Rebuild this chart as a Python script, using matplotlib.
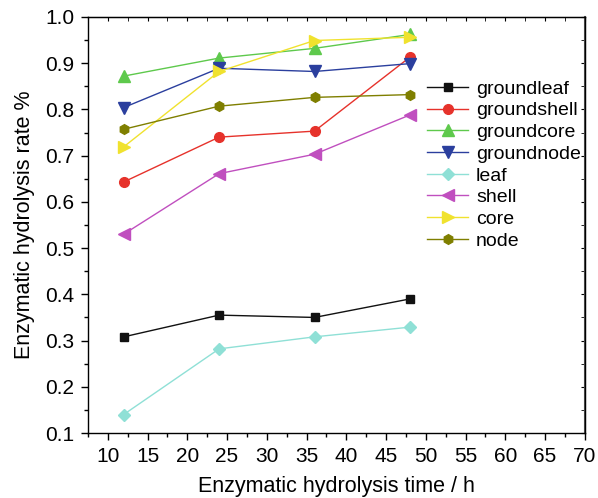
import matplotlib.pyplot as plt
from matplotlib.ticker import MultipleLocator

plt.rcParams['font.family'] = ['Liberation Sans', 'DejaVu Sans']

# hydrolysis time (h)
times = [12, 24, 36, 48]

# enzymatic hydrolysis rate for each sample
groundleaf = [0.308, 0.355, 0.350, 0.390]
groundshell = [0.643, 0.740, 0.753, 0.913]
groundcore = [0.872, 0.911, 0.932, 0.962]
groundnode = [0.804, 0.889, 0.882, 0.899]
leaf = [0.140, 0.282, 0.308, 0.329]
shell = [0.530, 0.661, 0.703, 0.788]
core = [0.719, 0.882, 0.949, 0.956]
node = [0.757, 0.807, 0.826, 0.832]

names = ['groundleaf', 'groundshell', 'groundcore', 'groundnode',
         'leaf', 'shell', 'core', 'node']
series = [groundleaf, groundshell, groundcore, groundnode,
          leaf, shell, core, node]
colors = ['#111111', '#e6322b', '#5ec94c', '#2b3f9e',
          '#8fe0d6', '#c04fbf', '#f0e22e', '#7f7f00']
markers = ['s', 'o', '^', 'v', 'D', '<', '>', 'h']
sizes = [6, 7, 8, 8, 6, 8, 8, 7]

fig = plt.figure(figsize=(5.98, 4.98), dpi=100)
ax = fig.add_axes([0.147, 0.1305, 0.831, 0.8355])

for name, vals, c, m, s in zip(names, series, colors, markers, sizes):
    ax.plot(times, vals, color=c, marker=m, markersize=s, linewidth=1,
            label=name)

ax.set_xlim(7.5, 70)
ax.set_ylim(0.1, 1.0)
ax.xaxis.set_major_locator(MultipleLocator(5))
ax.xaxis.set_minor_locator(MultipleLocator(2.5))
ax.yaxis.set_major_locator(MultipleLocator(0.1))
ax.yaxis.set_minor_locator(MultipleLocator(0.05))
ax.yaxis.set_major_formatter(plt.FuncFormatter(lambda v, p: f'{v:.1f}'))

ax.tick_params(which='both', direction='out', labelsize=15, width=1)
ax.tick_params(which='major', length=5, pad=5)
ax.tick_params(which='minor', length=3)

# secondary ticks on top and right spines, pointing inward
top = ax.secondary_xaxis('top')
top.xaxis.set_major_locator(MultipleLocator(5))
top.xaxis.set_minor_locator(MultipleLocator(2.5))
top.tick_params(which='both', direction='in', labeltop=False, length=3)
right = ax.secondary_yaxis('right')
right.yaxis.set_major_locator(MultipleLocator(0.1))
right.yaxis.set_minor_locator(MultipleLocator(0.05))
right.tick_params(which='both', direction='in', labelright=False, length=3)
right.spines['right'].set_color('#555555')
right.spines['right'].set_linewidth(1.5)

for sp in ax.spines.values():
    sp.set_linewidth(1)

ax.set_xlabel('Enzymatic hydrolysis time / h', fontsize=15.5, labelpad=7)
ax.set_ylabel('Enzymatic hydrolysis rate %', fontsize=15.5, labelpad=7)

ax.legend(loc='upper left', bbox_to_anchor=(0.683, 0.848), frameon=False,
          fontsize=14, handlelength=2.1, handletextpad=0.4,
          labelspacing=0.21, borderaxespad=0, borderpad=0)

fig.savefig('out.png', dpi=100)
